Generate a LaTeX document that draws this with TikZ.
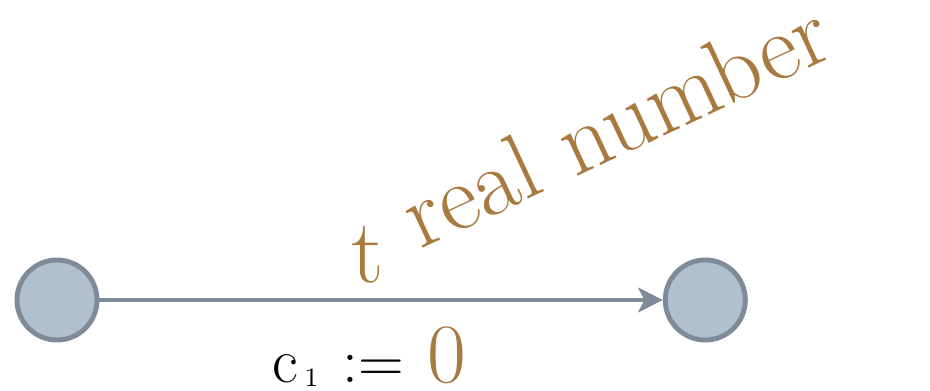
\documentclass[tikz,border=0pt]{standalone}
\usetikzlibrary{positioning,arrows.meta}
\definecolor{locfill}{RGB}{176,192,205}
\definecolor{locdraw}{RGB}{128,139,153}
\definecolor{typebrown}{RGB}{168,122,64}

\begin{document}
\begin{tikzpicture}[x=0.01cm,y=-0.01cm,>={Stealth[length=7pt,width=7pt,inset=1.8pt]},node distance=5.63cm,
    loc/.style={circle,draw=locdraw,fill=locfill,line width=1.4pt,minimum size=0.80cm,inner sep=0pt},
    typ/.style={text=typebrown,inner sep=0pt,anchor=base west}]
    \useasboundingbox (0,0) rectangle (930,391);
    \node[loc] (start) at (57,300) {};
    \node[loc,right=of start] (stop) {};
    \draw[->,locdraw,line width=1.4pt] (start) -- (stop);
    \node[typ] (var) at (351,282) {\fontsize{26}{26}\selectfont t};
    \node[typ,rotate=25] (vartype) at (420,250) {\fontsize{27}{27}\selectfont real\,\,number};
    \node[anchor=base west,inner sep=0pt] (reset) at (272,382)
        {\fontsize{18}{18}\selectfont c\hspace{0.6mm}\raisebox{-0.4mm}{\fontsize{7.5}{7.5}\selectfont 1}\hspace{2.4mm}:=};
    \node[typ] (val) at (427,382) {\fontsize{24}{24}\selectfont 0};
\end{tikzpicture}
\end{document}
